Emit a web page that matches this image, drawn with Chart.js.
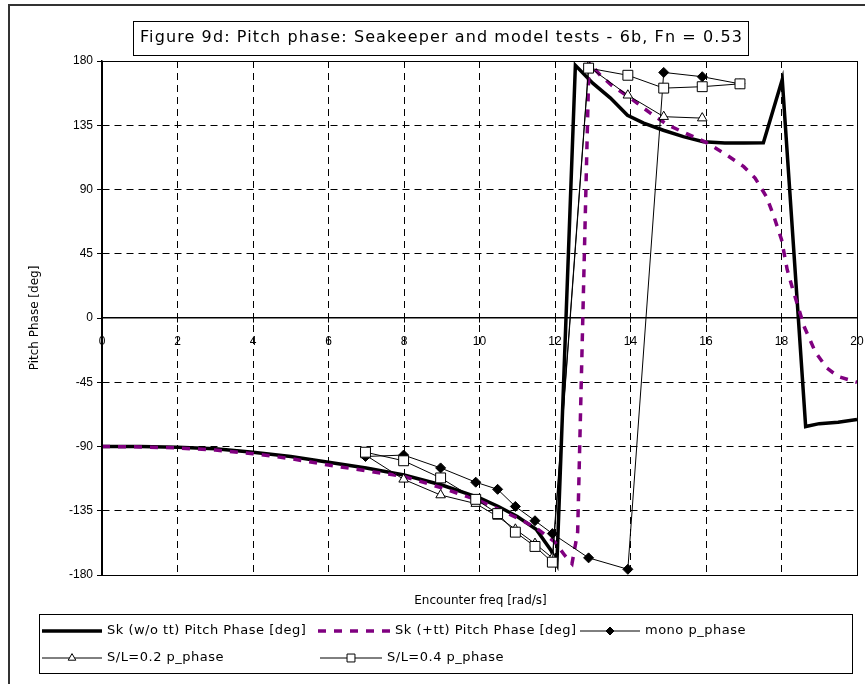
<!DOCTYPE html>
<html>
<head>
<meta charset="utf-8">
<script src="https://cdn.jsdelivr.net/npm/chart.js@4/dist/chart.umd.min.js"></script>
<style>
  html, body { margin: 0; padding: 0; background: #ffffff; }
  canvas { display: block; }
</style>
</head>
<body>
<canvas id="chart" width="865" height="684"></canvas>
<script>
// ---- chart text ----
const chartTitle = 'Figure 9d: Pitch phase: Seakeeper and model tests - 6b, Fn = 0.53';
const xAxisTitle = 'Encounter freq [rad/s]';
const yAxisTitle = 'Pitch Phase [deg]';
const seriesNames = [
  'Sk (w/o tt) Pitch Phase [deg]',
  'Sk (+tt) Pitch Phase [deg]',
  'mono p_phase',
  'S/L=0.2 p_phase',
  'S/L=0.4 p_phase'
];

// ---- tick labels ----
const xTickValues = [0, 2, 4, 6, 8, 10, 12, 14, 16, 18, 20];
const yTickValues = [-180, -135, -90, -45, 0, 45, 90, 135, 180];

// ---- Seakeeper prediction without transom terms ----
const skFreq  = [0, 1, 2, 3, 4, 5, 6, 7, 8, 9, 10, 10.5, 11, 11.5, 11.9, 12.05, 12.54, 13, 13.47, 13.92, 14.35, 14.87, 15.4, 15.93, 16.5, 17, 17.52, 18.02, 18.64, 19, 19.5, 20];
const skPhase = [-90, -90, -90.5, -91.5, -94, -97, -101, -105, -110, -117, -126, -132, -139, -148, -163, -172, 177, 164.5, 154, 142, 136.5, 131.5, 127, 123.4, 122.5, 122.5, 122.8, 167, -76, -74, -73, -71];

// ---- Seakeeper prediction with transom terms ----
const sktFreq  = [0, 1, 2, 3, 4, 5, 6, 7, 8, 9, 10, 10.5, 11, 11.5, 12, 12.25, 12.45, 12.6, 12.9, 13.2, 13.5, 14, 14.5, 15, 15.5, 16, 16.5, 17, 17.3, 17.6, 17.8, 18, 18.15, 18.3, 18.45, 18.6, 18.75, 18.9, 19.2, 19.5, 20];
const sktPhase = [-90, -90.3, -91, -92.5, -95, -98.5, -103, -107, -111, -119, -128, -134, -140, -147, -157, -166, -172, -150, 179, 170, 163, 154, 144, 135, 129, 123, 115, 106, 98, 85, 71, 55, 34, 20, 7, -6, -15, -24, -35, -41, -45];

// ---- model tests ----
const testFreq   = [6.98, 7.99, 8.97, 9.9, 10.48, 10.95, 11.47, 11.93, 12.89, 13.93, 14.88, 15.9, 16.9];
const monoPhase  = [-97, -96, -105, -115, -120, -132, -142, -151, -168, -176, 172, 169, 164];
const sl02Phase  = [-96, -113, -124, -130, -139, -148, -158, -168, 176, 156, 141, 140];
const sl04Phase  = [-94, -100, -112, -127, -137, -150, -160, -171, 175, 170, 161, 162, 164];

const pairs = (xs, ys) => ys.map((y, i) => ({ x: xs[i], y: y }));

const FONT_UI = '"DejaVu Sans", "Liberation Sans", sans-serif';
const FONT_TICK = '"Liberation Sans", Arial, sans-serif';

// Title box, x-axis caption, outer frame and the boxed legend
const decorations = {
  id: 'decorations',
  afterDraw(chart) {
    const ctx = chart.ctx;
    const area = chart.chartArea;
    ctx.save();

    // outer chart frame (top and left edges)
    ctx.strokeStyle = '#333333';
    ctx.lineWidth = 2;
    ctx.beginPath();
    ctx.moveTo(9, 684);
    ctx.lineTo(9, 5);
    ctx.lineTo(865, 5);
    ctx.stroke();

    // plot frame
    ctx.strokeStyle = '#000000';
    ctx.lineWidth = 1;
    ctx.strokeRect(Math.round(area.left) + 0.5, Math.round(area.top) + 0.5,
                   Math.round(area.right - area.left), Math.round(area.bottom - area.top));

    // title with box
    ctx.font = '16px ' + FONT_UI;
    ctx.fillStyle = '#000000';
    ctx.textAlign = 'left';
    ctx.textBaseline = 'middle';
    ctx.letterSpacing = '1.1px';
    const tw = ctx.measureText(chartTitle).width;
    const cx = 441.5, cy = 38;
    ctx.fillText(chartTitle, cx - tw / 2, cy);
    ctx.letterSpacing = '0px';
    ctx.lineWidth = 1;
    ctx.strokeRect(Math.round(cx - tw / 2 - 7) + 0.5, 21.5, Math.round(tw + 12), 34);

    // x-axis caption
    ctx.textAlign = 'center';
    ctx.font = '12px ' + FONT_UI;
    ctx.fillText(xAxisTitle, (area.left + area.right) / 2 + 1, 601);

    // legend
    ctx.strokeRect(39.5, 614.5, 813, 59);
    const slots = [
      { x: 42,  y: 631, w: 60 },
      { x: 318, y: 631, w: 72 },
      { x: 580, y: 631, w: 60 },
      { x: 42,  y: 658, w: 60 },
      { x: 320, y: 658, w: 62 }
    ];
    chart.data.datasets.forEach((ds, i) => {
      const s = slots[i];
      ctx.save();
      ctx.strokeStyle = ds.borderColor;
      ctx.lineWidth = ds.borderWidth;
      ctx.setLineDash(ds.borderDash || []);
      ctx.beginPath();
      ctx.moveTo(s.x, s.y);
      ctx.lineTo(s.x + s.w, s.y);
      ctx.stroke();
      ctx.setLineDash([]);
      if (ds.pointRadius > 0) {
        ctx.fillStyle = ds.pointBackgroundColor;
        ctx.strokeStyle = ds.pointBorderColor;
        ctx.lineWidth = ds.pointBorderWidth;
        Chart.helpers.drawPoint(ctx, {
          pointStyle: ds.pointStyle,
          radius: ds.pointRadius * 0.8,
          rotation: 0,
          borderWidth: ds.pointBorderWidth
        }, s.x + s.w / 2, s.y);
      }
      ctx.restore();
      ctx.font = '13px ' + FONT_UI;
      ctx.letterSpacing = '0.5px';
      ctx.fillStyle = '#000000';
      ctx.textAlign = 'left';
      ctx.textBaseline = 'middle';
      ctx.fillText(ds.label, s.x + s.w + 5, s.y);
      ctx.letterSpacing = '0px';
    });

    ctx.restore();
  }
};

new Chart(document.getElementById('chart'), {
  type: 'line',
  data: {
    datasets: [
      {
        label: seriesNames[0],
        data: pairs(skFreq, skPhase),
        borderColor: '#000000',
        borderWidth: 3.5,
        pointRadius: 0,
        tension: 0,
        order: 5
      },
      {
        label: seriesNames[1],
        data: pairs(sktFreq, sktPhase),
        borderColor: '#800080',
        borderWidth: 3.5,
        borderDash: [8, 8],
        pointRadius: 0,
        tension: 0,
        order: 4
      },
      {
        label: seriesNames[2],
        data: pairs(testFreq, monoPhase),
        borderColor: '#000000',
        borderWidth: 1,
        pointStyle: 'rectRot',
        pointRadius: 5,
        pointBackgroundColor: '#000000',
        pointBorderColor: '#000000',
        pointBorderWidth: 1,
        tension: 0,
        order: 3
      },
      {
        label: seriesNames[3],
        data: pairs(testFreq, sl02Phase),
        borderColor: '#000000',
        borderWidth: 1,
        pointStyle: 'triangle',
        pointRadius: 5.5,
        pointBackgroundColor: '#ffffff',
        pointBorderColor: '#000000',
        pointBorderWidth: 1,
        tension: 0,
        order: 2
      },
      {
        label: seriesNames[4],
        data: pairs(testFreq, sl04Phase),
        borderColor: '#000000',
        borderWidth: 1,
        pointStyle: 'rect',
        pointRadius: 7,
        pointBackgroundColor: '#ffffff',
        pointBorderColor: '#000000',
        pointBorderWidth: 1,
        tension: 0,
        order: 1
      }
    ]
  },
  options: {
    responsive: false,
    animation: false,
    devicePixelRatio: 1,
    layout: { padding: { left: 24, top: 61, right: 8, bottom: 109 } },
    plugins: {
      legend: { display: false },
      title: { display: false },
      tooltip: { enabled: false }
    },
    scales: {
      x: {
        type: 'linear',
        position: { y: 0 },
        min: 0,
        max: 20,
        afterBuildTicks: (scale) => { scale.ticks = xTickValues.map(v => ({ value: v })); },
        // the labels sit inside the plot at the zero line, so no side padding is needed
        afterFit: (scale) => { scale.paddingLeft = 0; scale.paddingRight = 0; },
        ticks: {
          color: '#000000',
          font: { family: FONT_TICK, size: 12 },
          padding: 12,
          maxRotation: 0,
          autoSkip: false
        },
        grid: {
          color: (c) => (c.tick && (c.tick.value === 0 || c.tick.value === 20)) ? 'rgba(0,0,0,0)' : '#000000',
          lineWidth: 1,
          tickColor: '#000000',
          tickLength: 4
        },
        border: { display: true, color: '#000000', width: 1.5, dash: [7, 5] }
      },
      y: {
        type: 'linear',
        position: 'left',
        min: -180,
        max: 180,
        afterBuildTicks: (scale) => { scale.ticks = yTickValues.map(v => ({ value: v })); },
        afterFit: (scale) => { scale.width = 78; },
        ticks: {
          color: '#000000',
          font: { family: FONT_TICK, size: 12 },
          padding: 4,
          autoSkip: false
        },
        grid: {
          color: (c) => (c.tick && Math.abs(c.tick.value) % 180 === 0) ? 'rgba(0,0,0,0)' : '#000000',
          lineWidth: 1,
          tickColor: '#000000',
          tickLength: 5
        },
        border: { display: true, color: '#000000', width: 1.5, dash: [7, 5] },
        title: {
          display: true,
          text: yAxisTitle,
          color: '#000000',
          font: { family: FONT_UI, size: 12 },
          padding: { top: 4, bottom: 4 }
        }
      }
    }
  },
  plugins: [decorations]
});
</script>
</body>
</html>
